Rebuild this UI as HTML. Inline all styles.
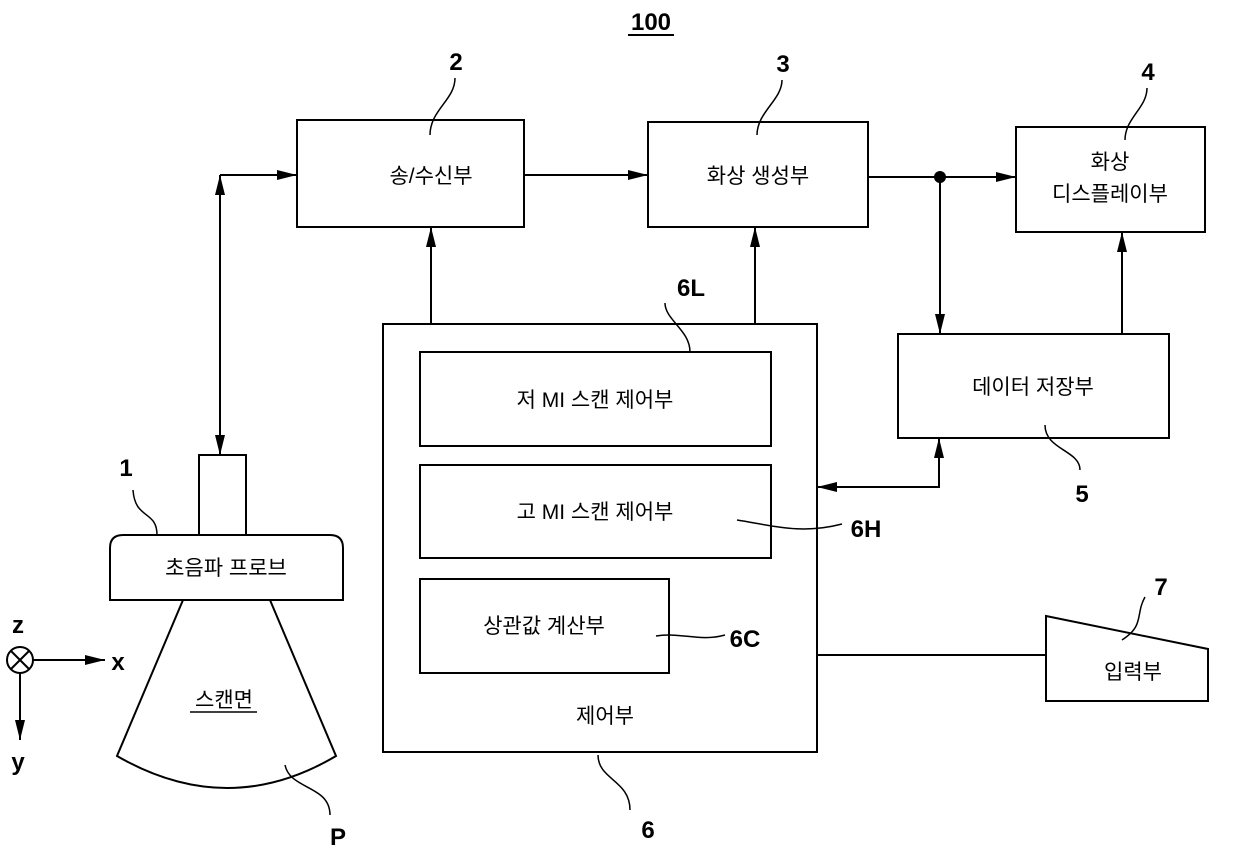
<!DOCTYPE html>
<html><head><meta charset="utf-8"><style>
html,body{margin:0;padding:0;background:#fff;}
svg{display:block;}
text{font-family:"Liberation Sans","Noto Sans CJK KR",sans-serif;fill:#000;}
.k{font-size:21px;}
.n{font-size:24px;font-weight:bold;}
</style></head><body>
<svg width="1240" height="866" viewBox="0 0 1240 866" xmlns="http://www.w3.org/2000/svg">
<defs><marker id="a" markerWidth="20" markerHeight="10" refX="20" refY="5" orient="auto" markerUnits="userSpaceOnUse"><path d="M0,0 L20,5 L0,10 Z" fill="#000"/></marker></defs>
<g fill="none" stroke="#000" stroke-width="2">
<line x1="628" y1="35" x2="674" y2="35"/>
<rect x="297" y="120" width="227" height="107"/>
<rect x="648" y="122" width="220" height="105"/>
<rect x="1016" y="127" width="189" height="105"/>
<rect x="898" y="334" width="271" height="104"/>
<rect x="383" y="324" width="434" height="428"/>
<rect x="420" y="352" width="351" height="94"/>
<rect x="420" y="465" width="351" height="93"/>
<rect x="420" y="579" width="249" height="94"/>
<path d="M1046,616 L1208,649 L1208,701 L1046,701 Z"/>
<rect x="199" y="455" width="47" height="80"/>
<path d="M110,600 L110,548 Q110,535 123,535 L330,535 Q343,535 343,548 L343,600 Z"/>
<path d="M183,600 L117,756 Q228,820 336,756 L270,600"/>
<line x1="524" y1="175" x2="648" y2="175" marker-end="url(#a)"/>
<line x1="868" y1="177" x2="1016" y2="177" marker-end="url(#a)"/>
<line x1="940" y1="177" x2="940" y2="334" marker-end="url(#a)"/>
<line x1="1122" y1="334" x2="1122" y2="232" marker-end="url(#a)"/>
<line x1="431" y1="324" x2="431" y2="227" marker-end="url(#a)"/>
<line x1="755" y1="324" x2="755" y2="227" marker-end="url(#a)"/>
<polyline points="939,458 939,487 817,487" marker-end="url(#a)"/>
<line x1="939" y1="470" x2="939" y2="438" marker-end="url(#a)"/>
<line x1="817" y1="655" x2="1046" y2="655"/>
<line x1="220" y1="175" x2="297" y2="175" marker-end="url(#a)"/>
<line x1="220" y1="200" x2="220" y2="175" marker-end="url(#a)"/>
<line x1="220" y1="175" x2="220" y2="455" marker-end="url(#a)"/>
<circle cx="20" cy="660" r="13"/>
<line x1="11" y1="651" x2="29" y2="669"/><line x1="29" y1="651" x2="11" y2="669"/>
<line x1="33" y1="660" x2="105" y2="660" marker-end="url(#a)"/>
<line x1="20" y1="673" x2="20" y2="740" marker-end="url(#a)"/>
<g stroke-width="1.5">
<path d="M455,78 C455,100 430,110 430,135"/>
<path d="M782,80 C782,100 757,112 757,135"/>
<path d="M1147,88 C1147,108 1125,118 1125,140"/>
<path d="M665,303 C665,320 690,330 690,352"/>
<path d="M1080,470 C1080,450 1045,450 1045,425"/>
<path d="M737,520 C770,525 800,535 842,524"/>
<path d="M656,636 C680,632 700,642 725,635"/>
<path d="M630,810 C630,780 598,780 598,755"/>
<path d="M1145,597 C1135,615 1145,625 1122,640"/>
<path d="M133,490 C135,520 157,510 157,535"/>
<path d="M330,815 C330,785 290,790 285,765"/>
</g>
<line x1="190" y1="712" x2="257" y2="712" stroke-width="1.5"/>
</g>
<circle cx="940" cy="177" r="6" fill="#000"/>
<text x="651" y="30" class="n" text-anchor="middle">100</text>
<text x="456" y="70" class="n" text-anchor="middle">2</text>
<text x="783" y="72" class="n" text-anchor="middle">3</text>
<text x="1148" y="80" class="n" text-anchor="middle">4</text>
<text x="691" y="296" class="n" text-anchor="middle">6L</text>
<text x="1082" y="502" class="n" text-anchor="middle">5</text>
<text x="866" y="537" class="n" text-anchor="middle">6H</text>
<text x="745" y="647" class="n" text-anchor="middle">6C</text>
<text x="648" y="838" class="n" text-anchor="middle">6</text>
<text x="1161" y="595" class="n" text-anchor="middle">7</text>
<text x="126" y="476" class="n" text-anchor="middle">1</text>
<text x="338" y="845" class="n" text-anchor="middle">P</text>
<text x="18" y="633" class="n" text-anchor="middle" font-weight="normal">z</text>
<text x="118" y="670" class="n" text-anchor="middle" font-weight="normal">x</text>
<text x="18" y="770" class="n" text-anchor="middle" font-weight="normal">y</text>
<text x="431" y="183" class="k" text-anchor="middle">송/수신부</text>
<text x="758" y="183" class="k" text-anchor="middle">화상 생성부</text>
<text x="1110" y="169" class="k" text-anchor="middle">화상</text>
<text x="1110" y="201" class="k" text-anchor="middle">디스플레이부</text>
<text x="1033" y="394" class="k" text-anchor="middle">데이터 저장부</text>
<text x="595" y="407" class="k" text-anchor="middle">저 MI 스캔 제어부</text>
<text x="595" y="519" class="k" text-anchor="middle">고 MI 스캔 제어부</text>
<text x="544" y="633" class="k" text-anchor="middle">상관값 계산부</text>
<text x="605" y="723" class="k" text-anchor="middle">제어부</text>
<text x="1133" y="679" class="k" text-anchor="middle">입력부</text>
<text x="226" y="575" class="k" text-anchor="middle">초음파 프로브</text>
<text x="224" y="707" class="k" text-anchor="middle">스캔면</text>
</svg>
</body></html>
